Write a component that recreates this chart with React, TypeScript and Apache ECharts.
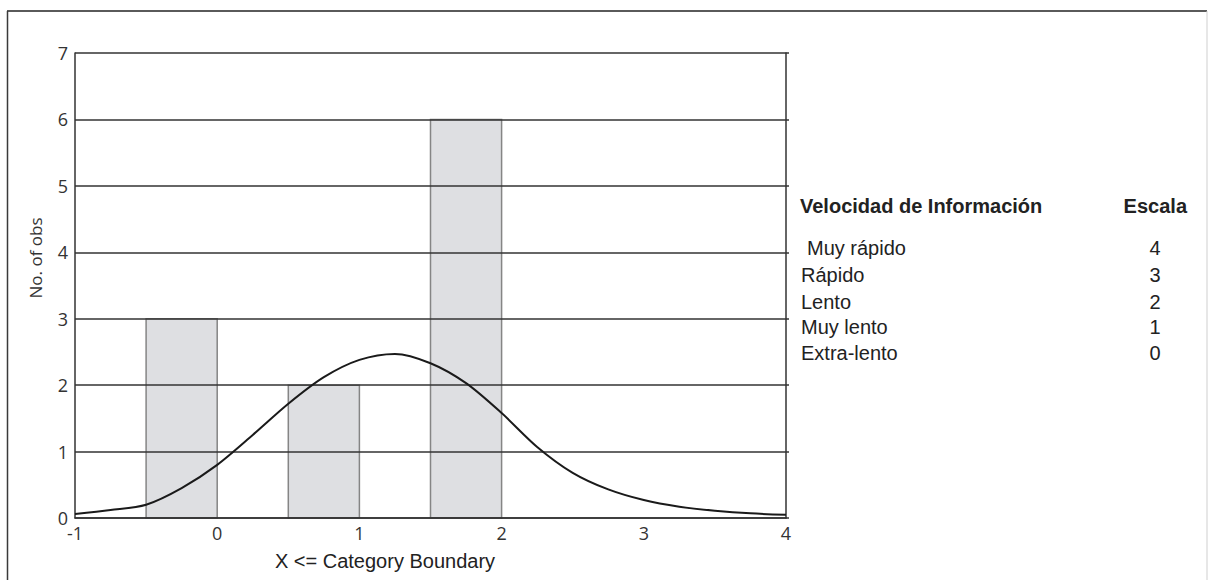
import React, { useEffect, useRef } from "react";
import * as echarts from "echarts";

// Histogram bins: lower edge, upper edge (category boundary), count
const binLower = [-0.5, 0.5, 1.5];
const binUpper = [0, 1, 2];
const binCounts = [3, 2, 6];

// Fitted curve
const curveX = [-1, -0.75, -0.5, -0.25, 0, 0.25, 0.5, 0.75, 1, 1.25, 1.5, 1.75, 2, 2.25, 2.5, 2.75, 3, 3.25, 3.5, 3.75, 4];
const curveY = [0.06, 0.12, 0.2, 0.45, 0.8, 1.25, 1.72, 2.12, 2.38, 2.47, 2.33, 2.03, 1.58, 1.07, 0.68, 0.43, 0.27, 0.17, 0.11, 0.07, 0.05];

// Axis ranges
const xMin = -1;
const xMax = 4;
const yMin = 0;
const yMax = 7;

// Side table
const tableHeader = "Velocidad de Información";
const tableHeader2 = "Escala";
const tableLabels = ["Muy rápido", "Rápido", "Lento", "Muy lento", "Extra-lento"];
const tableValues = ["4", "3", "2", "1", "0"];

const xTitle = "X <= Category Boundary";
const yTitle = "No. of obs";

export default function App() {
  const ref = useRef<HTMLDivElement>(null);
  useEffect(() => {
    if (!ref.current) return;
    const chart = echarts.init(ref.current, null, { renderer: "svg" });
    const barData = binCounts.map((c, i) => [binLower[i], binUpper[i], c]);
    const lineData = curveX.map((x, i) => [x, curveY[i]]);
    const legendFont = "Liberation Sans, Arial, sans-serif";
    const rowYs = [248, 275, 302, 327, 353];
    const graphics: any[] = [
      { type: "line", shape: { x1: 7, y1: 11, x2: 1207, y2: 11 }, style: { stroke: "#5a5a5a", lineWidth: 2 } },
      { type: "line", shape: { x1: 7.5, y1: 11, x2: 7.5, y2: 580 }, style: { stroke: "#3a3a3a", lineWidth: 1.5 } },
      { type: "line", shape: { x1: 1207, y1: 11, x2: 1207, y2: 580 }, style: { stroke: "#cfcfcf", lineWidth: 1 } },
      {
        type: "text", x: 35, y: 258, rotation: Math.PI / 2,
        style: { text: yTitle, fill: "#333", font: "17px 'Open Sans', sans-serif", textAlign: "center", textVerticalAlign: "middle" },
      },
      {
        type: "text", x: 385, y: 561,
        style: { text: xTitle, fill: "#222", font: `20px ${legendFont}`, textAlign: "center", textVerticalAlign: "middle" },
      },
      {
        type: "text", x: 800, y: 206,
        style: { text: tableHeader, fill: "#222", font: `bold 20px ${legendFont}`, textAlign: "left", textVerticalAlign: "middle" },
      },
      {
        type: "text", x: 1187, y: 206,
        style: { text: tableHeader2, fill: "#222", font: `bold 20px ${legendFont}`, textAlign: "right", textVerticalAlign: "middle" },
      },
    ];
    tableLabels.forEach((t, i) => {
      graphics.push({
        type: "text", x: i === 0 ? 807 : 801, y: rowYs[i],
        style: { text: t, fill: "#222", font: `20px ${legendFont}`, textAlign: "left", textVerticalAlign: "middle" },
      });
      graphics.push({
        type: "text", x: 1155, y: rowYs[i],
        style: { text: tableValues[i], fill: "#222", font: `20px ${legendFont}`, textAlign: "center", textVerticalAlign: "middle" },
      });
    });

    chart.setOption({
      animation: false,
      backgroundColor: "#ffffff",
      grid: { left: 75, top: 53, right: 422, bottom: 62, containLabel: false, outerBoundsMode: "none" },
      xAxis: {
        type: "value", min: xMin, max: xMax, interval: 1, z: 3,
        axisLine: { show: true, onZero: false, lineStyle: { color: "#333", width: 1.5 } },
        axisTick: { show: false },
        splitLine: { show: false },
        axisLabel: { color: "#333", fontSize: 18, fontFamily: "Open Sans", margin: 6 },
      },
      yAxis: [
        {
          type: "value", min: yMin, max: yMax, interval: 1, z: 3, position: "left",
          axisLine: { show: true, onZero: false, lineStyle: { color: "#333", width: 1.5 } },
          axisTick: { show: false },
          splitLine: { show: true, lineStyle: { color: "#333", width: 1.5 } },
          axisLabel: { color: "#333", fontSize: 18, fontFamily: "Open Sans", margin: 7 },
        },
        {
          type: "value", min: yMin, max: yMax, interval: 1, position: "right", z: 3,
          axisLine: { show: true, onZero: false, lineStyle: { color: "#333", width: 1.5 } },
          axisTick: { show: true, length: 3, inside: false, lineStyle: { color: "#333", width: 1.5 } },
          splitLine: { show: false },
          axisLabel: { show: false },
        },
      ],
      series: [
        {
          type: "custom", z: 2,
          encode: { x: [0, 1], y: 2 },
          data: barData,
          renderItem: (params: any, api: any) => {
            const p1 = api.coord([api.value(0), api.value(2)]);
            const p2 = api.coord([api.value(1), 0]);
            return {
              type: "rect",
              shape: { x: p1[0], y: p1[1], width: p2[0] - p1[0], height: p2[1] - p1[1] },
              style: { fill: "#dedfe2", stroke: "#858585", lineWidth: 1.5 },
            };
          },
        },
        {
          type: "line", z: 4,
          data: lineData,
          smooth: 0.3,
          showSymbol: false,
          lineStyle: { color: "#1a1a1a", width: 2 },
        },
      ],
      graphic: graphics,
    });
    return () => chart.dispose();
  }, []);
  return (
    <div
      ref={ref}
      style={{ position: "fixed", left: 0, top: 0, width: 1208, height: 580, background: "#fff" }}
    />
  );
}
